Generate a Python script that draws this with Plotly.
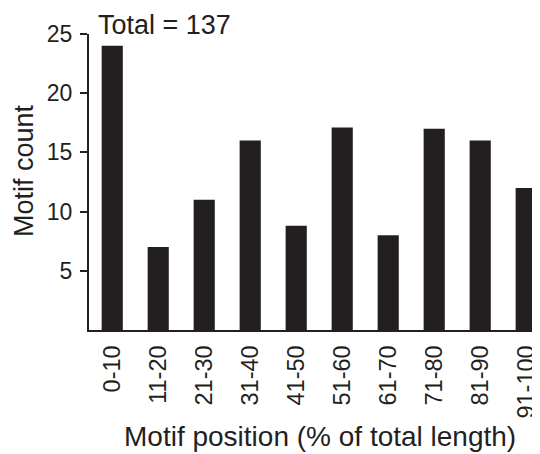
import plotly.graph_objects as go

categories = ["0-10", "11-20", "21-30", "31-40", "41-50", "51-60", "61-70", "71-80", "81-90", "91-100"]
counts = [24, 7, 11, 16, 8.8, 17.1, 8, 17, 16, 12]
y_ticks = [5, 10, 15, 20, 25]
total_label = "Total = 137"
x_title = "Motif position (% of total length)"
y_title = "Motif count"

FONT = "Liberation Sans, Arial, Helvetica, sans-serif"
DARK = "#231f20"

fig = go.Figure(go.Bar(x=categories, y=counts, marker=dict(color=DARK, line=dict(width=0)), width=0.46))

# page has an 8px body margin, so the figure is 532x446 to fill the 540x454 window
fig.update_layout(
    width=532, height=446,
    margin=dict(l=81, r=0, t=26, b=124, autoexpand=False),
    paper_bgcolor="white", plot_bgcolor="white",
    font=dict(family=FONT, color=DARK),
    showlegend=False,
    xaxis=dict(
        range=[-0.505, 9.3],
        showline=True, linecolor=DARK, linewidth=2,
        ticks="", tickangle=-90, tickfont=dict(size=23.5, color=DARK),
        ticklabelstandoff=4,
        showgrid=False, zeroline=False,
    ),
    yaxis=dict(
        range=[0, 25],
        tickvals=y_ticks,
        showline=True, linecolor=DARK, linewidth=2,
        ticks="outside", ticklen=7, tickwidth=2, tickcolor=DARK,
        tickfont=dict(size=23, color=DARK),
        ticklabelstandoff=3,
        showgrid=False, zeroline=False,
    ),
    annotations=[
        dict(text=total_label, xref="paper", yref="paper", x=0.016, y=1.0,
             xanchor="left", yanchor="bottom", showarrow=False, yshift=-8,
             font=dict(size=27, color=DARK)),
        dict(text=x_title, xref="paper", yref="paper", x=0.5, y=0,
             xanchor="center", yanchor="middle", showarrow=False, yshift=-106, xshift=5,
             font=dict(size=28, color=DARK)),
        dict(text=y_title, xref="paper", yref="paper", x=0, y=0.537,
             xanchor="center", yanchor="middle", showarrow=False, xshift=-65,
             textangle=-90, font=dict(size=27, color=DARK)),
    ],
)

fig.write_html("out.html")
